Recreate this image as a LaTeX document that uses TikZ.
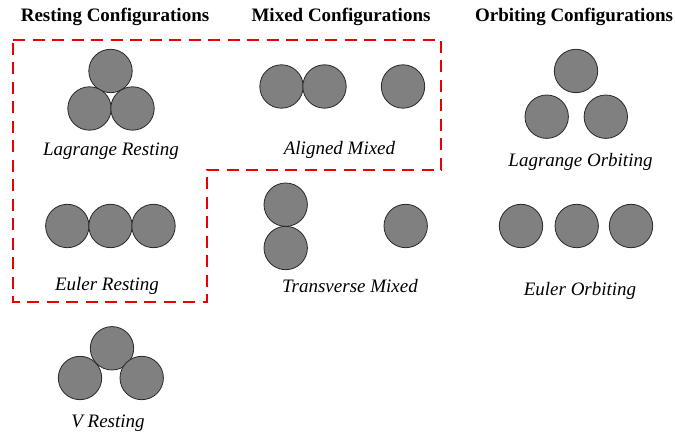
\documentclass[tikz,border=0pt]{standalone}
\usepackage{fontspec}
\setmainfont{Liberation Serif}
\begin{document}
\begin{tikzpicture}[x=1pt,y=-1pt,
  ball/.style={circle, minimum size=43.4pt, inner sep=0pt, fill={rgb,255:red,128;green,128;blue,128}, draw={rgb,255:red,40;green,40;blue,40}, line width=0.8pt},
  title/.style={anchor=base, inner sep=0pt, font=\fontsize{19}{22}\selectfont\bfseries},
  lbl/.style={anchor=base, inner sep=0pt, font=\fontsize{19}{22}\selectfont\itshape},
  group/.style={draw={rgb,255:red,235;green,0;blue,0}, line width=2.6pt, dash pattern=on 12pt off 7.5pt, line join=miter}]
\useasboundingbox (0,0) rectangle (675,435);
% titles
\node[title] (t1) at (115,22) {Resting Configurations};
\node[title] (t2) at (341,22) {Mixed Configurations};
\node[title] (t3) at (574,22) {Orbiting Configurations};
% grouping outline
\draw[group] (13,40) -- (441,40) -- (441,170) -- (207,170) -- (207,302) -- (13,302) -- cycle;
% Lagrange resting
\node[ball] (lr1) at (110.5,71) {};
\node[ball] (lr2) at (89.5,108.5) {};
\node[ball] (lr3) at (132.5,108.5) {};
\node[lbl] (lrl) at (111,156) {Lagrange Resting};
% Aligned mixed
\node[ball] (am1) at (281.5,86.5) {};
\node[ball] (am2) at (324.5,86.5) {};
\node[ball] (am3) at (403,86.5) {};
\node[lbl] (aml) at (339.5,155) {Aligned Mixed};
% Lagrange orbiting
\node[ball] (lo1) at (576,71) {};
\node[ball] (lo2) at (546.7,116.7) {};
\node[ball] (lo3) at (605.8,116.7) {};
\node[lbl] (lol) at (580.5,167) {Lagrange Orbiting};
% Euler resting
\node[ball] (er1) at (67.3,226) {};
\node[ball] (er2) at (110.5,226) {};
\node[ball] (er3) at (153.5,226) {};
\node[lbl] (erl) at (107,291) {Euler Resting};
% Transverse mixed
\node[ball] (tm1) at (285.7,204.7) {};
\node[ball] (tm2) at (285.7,248) {};
\node[ball] (tm3) at (405.7,226) {};
\node[lbl] (tml) at (350,293) {Transverse Mixed};
% Euler orbiting
\node[ball] (eo1) at (521,226) {};
\node[ball] (eo2) at (576.7,226) {};
\node[ball] (eo3) at (631,226) {};
\node[lbl] (eol) at (580,296) {Euler Orbiting};
% V resting
\node[ball] (vr1) at (112,348.3) {};
\node[ball] (vr2) at (80,378) {};
\node[ball] (vr3) at (141.7,378) {};
\node[lbl] (vrl) at (108,428) {V Resting};
\end{tikzpicture}
\end{document}
